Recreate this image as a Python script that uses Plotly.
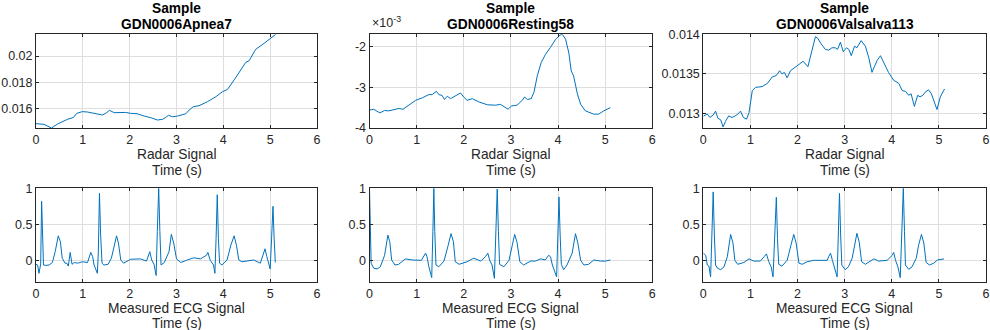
import plotly.graph_objects as go

# ---------------- data ----------------
apnea_t = [0.0, 0.17, 0.33, 0.46, 0.67, 0.80, 0.87, 0.99, 1.10, 1.27, 1.42, 1.49, 1.57, 1.67, 1.81, 1.91,
           2.02, 2.16, 2.31, 2.45, 2.59, 2.70, 2.77, 2.83, 2.91, 3.02, 3.20, 3.27, 3.36, 3.48, 3.66, 3.84,
           3.98, 4.09, 4.23, 4.37, 4.48, 4.55, 4.69, 4.87, 5.01, 5.12]
apnea_v = [0.01483, 0.01478, 0.01450, 0.01480, 0.01516, 0.01531, 0.01562, 0.01575, 0.01572, 0.01562,
           0.01549, 0.01562, 0.01585, 0.01567, 0.01567, 0.01569, 0.01562, 0.01559, 0.01541, 0.01529,
           0.01511, 0.01516, 0.01531, 0.01547, 0.01536, 0.01541, 0.01559, 0.01587, 0.01613, 0.01620,
           0.01651, 0.01689, 0.01727, 0.01745, 0.01817, 0.01898, 0.01952, 0.01964, 0.02051, 0.02097,
           0.02138, 0.02166]

resting_t = [0.0, 0.09, 0.22, 0.32, 0.41, 0.52, 0.62, 0.71, 0.83, 0.98, 1.12, 1.26, 1.33, 1.42, 1.47,
             1.54, 1.59, 1.65, 1.72, 1.80, 1.93, 2.00, 2.07, 2.18, 2.32, 2.50, 2.67, 2.78, 2.89, 2.94,
             3.01, 3.13, 3.24, 3.29, 3.35, 3.43, 3.49, 3.56, 3.64, 3.73, 3.84, 3.95, 4.04, 4.09, 4.16,
             4.23, 4.28, 4.33, 4.41, 4.48, 4.58, 4.69, 4.76, 4.86, 4.97, 5.11]
resting_v = [-3.56e-3, -3.54e-3, -3.63e-3, -3.57e-3, -3.58e-3, -3.54e-3, -3.52e-3, -3.54e-3, -3.44e-3,
             -3.32e-3, -3.26e-3, -3.18e-3, -3.18e-3, -3.10e-3, -3.18e-3, -3.20e-3, -3.30e-3, -3.22e-3,
             -3.28e-3, -3.22e-3, -3.14e-3, -3.24e-3, -3.32e-3, -3.28e-3, -3.36e-3, -3.43e-3, -3.44e-3,
             -3.42e-3, -3.50e-3, -3.54e-3, -3.46e-3, -3.44e-3, -3.32e-3, -3.24e-3, -3.30e-3, -3.28e-3,
             -3.12e-3, -2.72e-3, -2.40e-3, -2.20e-3, -2.02e-3, -1.82e-3, -1.72e-3, -1.70e-3, -1.82e-3,
             -2.16e-3, -2.60e-3, -2.72e-3, -3.16e-3, -3.42e-3, -3.58e-3, -3.62e-3, -3.66e-3, -3.66e-3,
             -3.58e-3, -3.50e-3]

valsalva_t = [0.0, 0.085, 0.14, 0.21, 0.26, 0.31, 0.37, 0.42, 0.47, 0.54, 0.61, 0.71, 0.79, 0.85, 0.92,
              0.97, 1.04, 1.11, 1.25, 1.36, 1.46, 1.55, 1.62, 1.67, 1.72, 1.78, 1.85, 1.96, 2.03, 2.12,
              2.22, 2.29, 2.38, 2.43, 2.50, 2.59, 2.66, 2.73, 2.80, 2.85, 2.91, 2.97, 3.04, 3.09, 3.14,
              3.21, 3.26, 3.35, 3.44, 3.51, 3.58, 3.63, 3.69, 3.76, 3.83, 3.93, 4.04, 4.15, 4.22, 4.29,
              4.36, 4.41, 4.48, 4.55, 4.60, 4.66, 4.71, 4.78, 4.84, 4.89, 4.96, 5.03, 5.12]
valsalva_v = [0.012967, 0.012992, 0.01295, 0.01298, 0.01303, 0.01294, 0.01292, 0.01283, 0.01290,
              0.01297, 0.01295, 0.01298, 0.01303, 0.01295, 0.01293, 0.01301, 0.01329, 0.01333, 0.01334,
              0.01338, 0.01346, 0.01348, 0.01354, 0.01350, 0.01352, 0.01345, 0.01354, 0.01359, 0.01363,
              0.01366, 0.01359, 0.01377, 0.01397, 0.01395, 0.01388, 0.01381, 0.01380, 0.01383, 0.01383,
              0.01381, 0.01390, 0.01378, 0.01383, 0.01381, 0.01373, 0.01385, 0.01383, 0.01392, 0.01385,
              0.01371, 0.01352, 0.01359, 0.01367, 0.01373, 0.01365, 0.01352, 0.01342, 0.01338, 0.01329,
              0.01328, 0.01323, 0.01325, 0.01309, 0.01323, 0.01321, 0.01323, 0.01327, 0.01330, 0.01325,
              0.01317, 0.01305, 0.01321, 0.01331]

ecg_apnea_t = [0.0, 0.035, 0.064, 0.085, 0.10, 0.12, 0.14, 0.16, 0.21, 0.28, 0.35, 0.41, 0.475, 0.52,
               0.56, 0.62, 0.66, 0.69, 0.73, 0.77, 0.82, 0.89, 0.99, 1.10, 1.17, 1.21, 1.24, 1.31, 1.33,
               1.355, 1.38, 1.41, 1.45, 1.54, 1.61, 1.72, 1.76, 1.81, 1.87, 2.02, 2.23, 2.36, 2.43, 2.47,
               2.52, 2.565, 2.59, 2.62, 2.645, 2.67, 2.74, 2.84, 2.89, 2.94, 3.00, 3.09, 3.23, 3.37, 3.51,
               3.64, 3.67, 3.72, 3.79, 3.82, 3.845, 3.87, 3.895, 3.92, 3.97, 4.08, 4.16, 4.23, 4.28, 4.33,
               4.40, 4.50, 4.65, 4.79, 4.86, 4.89, 4.93, 4.96, 5.00, 5.03, 5.06, 5.085, 5.11]
ecg_apnea_v = [-0.056, -0.065, -0.18, -0.09, -0.05, 0.82, 0.20, -0.065, -0.07, -0.065, -0.03, 0.12,
               0.34, 0.26, 0.03, -0.04, -0.04, -0.08, 0.11, -0.055, -0.03, -0.04, -0.02, -0.03, 0.11,
               0.05, -0.065, -0.18, 0.10, 0.93, 0.35, -0.04, -0.065, -0.055, 0.03, 0.34, 0.24, 0.005,
               -0.04, 0.015, 0.02, -0.01, 0.12, 0.005, -0.055, -0.21, 0.40, 1.00, 0.40, -0.065, -0.03,
               0.12, 0.36, 0.24, 0.02, -0.03, 0.005, 0.035, 0.02, 0.07, 0.11, 0.00, -0.065, -0.18, 0.30,
               0.91, 0.30, -0.04, -0.065, 0.005, 0.21, 0.34, 0.21, 0.005, -0.02, -0.01, 0.005, -0.04,
               0.12, 0.16, 0.05, -0.02, -0.12, 0.30, 0.75, 0.30, -0.03]

ecg_resting_t = [0.0, 0.015, 0.035, 0.09, 0.16, 0.23, 0.32, 0.39, 0.43, 0.47, 0.54, 0.62, 0.76, 0.91,
                 1.10, 1.19, 1.22, 1.26, 1.32, 1.345, 1.365, 1.385, 1.41, 1.47, 1.58, 1.67, 1.73, 1.78,
                 1.82, 1.90, 2.07, 2.21, 2.36, 2.46, 2.51, 2.55, 2.60, 2.65, 2.68, 2.71, 2.735, 2.76,
                 2.85, 2.96, 3.03, 3.08, 3.13, 3.19, 3.27, 3.42, 3.52, 3.63, 3.73, 3.80, 3.84, 3.88,
                 3.97, 3.995, 4.02, 4.045, 4.07, 4.12, 4.19, 4.30, 4.37, 4.42, 4.48, 4.55, 4.65, 4.76,
                 4.90, 5.01, 5.11]
ecg_resting_v = [1.00, 0.60, -0.04, -0.11, -0.12, -0.09, 0.07, 0.35, 0.26, 0.005, -0.065, -0.055, 0.02,
                 0.005, 0.00, 0.10, 0.05, -0.09, -0.24, 0.40, 1.00, 0.40, -0.065, -0.09, -0.01, 0.21,
                 0.37, 0.26, -0.02, -0.055, -0.02, 0.03, -0.01, 0.05, 0.10, 0.00, -0.065, -0.25, 0.40,
                 0.99, 0.40, -0.055, -0.09, 0.00, 0.21, 0.36, 0.25, -0.02, -0.065, -0.01, -0.01, 0.02,
                 0.005, 0.07, 0.05, -0.065, -0.23, 0.35, 0.88, 0.35, -0.055, -0.13, -0.065, 0.10, 0.37,
                 0.24, 0.00, -0.065, -0.055, 0.005, -0.01, -0.01, 0.005]

ecg_valsalva_t = [0.0, 0.05, 0.085, 0.12, 0.155, 0.18, 0.21, 0.235, 0.26, 0.30, 0.37, 0.44, 0.51, 0.58,
                  0.63, 0.67, 0.73, 0.86, 0.97, 1.07, 1.21, 1.29, 1.34, 1.39, 1.44, 1.48, 1.515, 1.55,
                  1.575, 1.60, 1.67, 1.78, 1.86, 1.92, 1.97, 2.03, 2.10, 2.20, 2.34, 2.49, 2.63, 2.66,
                  2.70, 2.74, 2.78, 2.84, 2.865, 2.89, 2.915, 2.94, 3.01, 3.08, 3.16, 3.21, 3.26, 3.31,
                  3.36, 3.44, 3.55, 3.62, 3.72, 3.90, 4.01, 4.04, 4.08, 4.13, 4.18, 4.21, 4.245, 4.27,
                  4.29, 4.36, 4.43, 4.52, 4.57, 4.63, 4.68, 4.73, 4.80, 4.89, 4.97, 5.11]
ecg_valsalva_v = [0.10, 0.07, -0.065, -0.08, -0.23, 0.35, 0.95, 0.35, -0.065, -0.11, -0.13, -0.09, 0.05,
                  0.36, 0.24, 0.00, -0.055, -0.03, 0.02, -0.01, -0.01, 0.05, 0.09, -0.02, -0.09, -0.23,
                  0.30, 0.875, 0.30, -0.055, -0.08, 0.00, 0.21, 0.36, 0.24, -0.04, -0.055, -0.02, 0.00,
                  0.00, 0.00, 0.05, 0.10, 0.00, -0.09, -0.23, 0.35, 0.93, 0.35, -0.065, -0.13, -0.09,
                  0.03, 0.21, 0.375, 0.25, -0.02, -0.055, -0.01, 0.02, -0.01, 0.00, 0.07, 0.11, 0.00,
                  -0.09, -0.24, 0.40, 1.00, 0.40, -0.065, -0.125, -0.09, 0.03, 0.21, 0.36, 0.24, -0.03,
                  -0.065, -0.04, 0.005, 0.02]

titles = ["GDN0006Apnea7", "GDN0006Resting58", "GDN0006Valsalva113"]
x_ticks = [0, 1, 2, 3, 4, 5, 6]
apnea_yticks = [0.016, 0.018, 0.020]
apnea_yticktext = ["0.016", "0.018", "0.02"]
resting_yticks = [-4e-3, -3e-3, -2e-3]
resting_yticktext = ["-4", "-3", "-2"]
valsalva_yticks = [0.013, 0.0135, 0.014]
valsalva_yticktext = ["0.013", "0.0135", "0.014"]
ecg_yticks = [0, 0.5, 1]
ecg_yticktext = ["0", "0.5", "1"]

# ---------------- layout geometry ----------------
W, H = 990, 330
LINE = "#0072BD"
AX = "#262626"
GRID = "#dedede"
FONT = "Liberation Sans, Arial, sans-serif"

cols = [(36, 317), (369.5, 652.3), (703.3, 986)]
rows = [(34.3, 128), (188.3, 282.3)]

def px_x(v):
    return v / W

def px_y(v):
    return 1 - v / H

fig = go.Figure()

series = [
    (apnea_t, apnea_v), (resting_t, resting_v), (valsalva_t, valsalva_v),
    (ecg_apnea_t, ecg_apnea_v), (ecg_resting_t, ecg_resting_v), (ecg_valsalva_t, ecg_valsalva_v),
]
yranges = [[0.0145, 0.02166], [-4e-3, -1.70e-3], [0.012817, 0.0140002],
           [-0.305, 1.0], [-0.305, 1.0], [-0.305, 1.0]]
yticks = [(apnea_yticks, apnea_yticktext), (resting_yticks, resting_yticktext),
          (valsalva_yticks, valsalva_yticktext), (ecg_yticks, ecg_yticktext),
          (ecg_yticks, ecg_yticktext), (ecg_yticks, ecg_yticktext)]

for i, (t, v) in enumerate(series):
    n = i + 1
    r = 0 if i < 3 else 1
    c = i % 3
    xa = "x" if n == 1 else f"x{n}"
    ya = "y" if n == 1 else f"y{n}"
    fig.add_trace(go.Scatter(x=t, y=v, mode="lines", line=dict(color=LINE, width=1),
                             xaxis=xa, yaxis=ya, showlegend=False, hoverinfo="skip"))
    common = dict(showline=True, linecolor=AX, linewidth=1, mirror="ticks", ticks="inside",
                  ticklen=3, tickcolor=AX, showgrid=True, gridcolor=GRID, gridwidth=1,
                  zeroline=False, automargin=False,
                  tickfont=dict(family=FONT, size=12.5, color=AX))
    fig.update_layout({
        ("xaxis" if n == 1 else f"xaxis{n}"): dict(
            domain=[px_x(cols[c][0]), px_x(cols[c][1])], anchor=ya, range=[0, 6],
            tickvals=x_ticks, ticktext=[str(k) for k in x_ticks], **common),
        ("yaxis" if n == 1 else f"yaxis{n}"): dict(
            domain=[px_y(rows[r][1]), px_y(rows[r][0])], anchor=xa, range=yranges[i],
            tickvals=yticks[i][0], ticktext=yticks[i][1], **common),
    })

labels = []
for c in range(3):
    cx = px_x((cols[c][0] + cols[c][1]) / 2)
    labels.append((cx, 8.5, "<b>Sample</b>", True))
    labels.append((cx, 24.5, f"<b>{titles[c]}</b>", True))
    labels.append((cx, 154.5, "Radar Signal", False))
    labels.append((cx, 170.5, "Time (s)", False))
    labels.append((cx, 308, "Measured ECG Signal", False))
    labels.append((cx, 323.5, "Time (s)", False))

annotations = []
for x, ypx, text, is_title in labels:
    annotations.append(dict(
        x=x, y=px_y(ypx), xref="paper", yref="paper", text=text, showarrow=False,
        xanchor="center", yanchor="middle",
        font=dict(family=FONT, size=13.75, color="#000000" if is_title else AX)))

annotations.append(dict(x=px_x(370), y=px_y(22), xref="paper", yref="paper",
                        text="×10<sup>-3</sup>", showarrow=False, xanchor="left", yanchor="middle",
                        font=dict(family=FONT, size=12.5, color=AX)))

fig.update_layout(width=W, height=H,
                  margin=dict(l=0, r=0, t=0, b=0, pad=0, autoexpand=False),
                  paper_bgcolor="white", plot_bgcolor="white", annotations=annotations)

fig.write_html("out.html")
